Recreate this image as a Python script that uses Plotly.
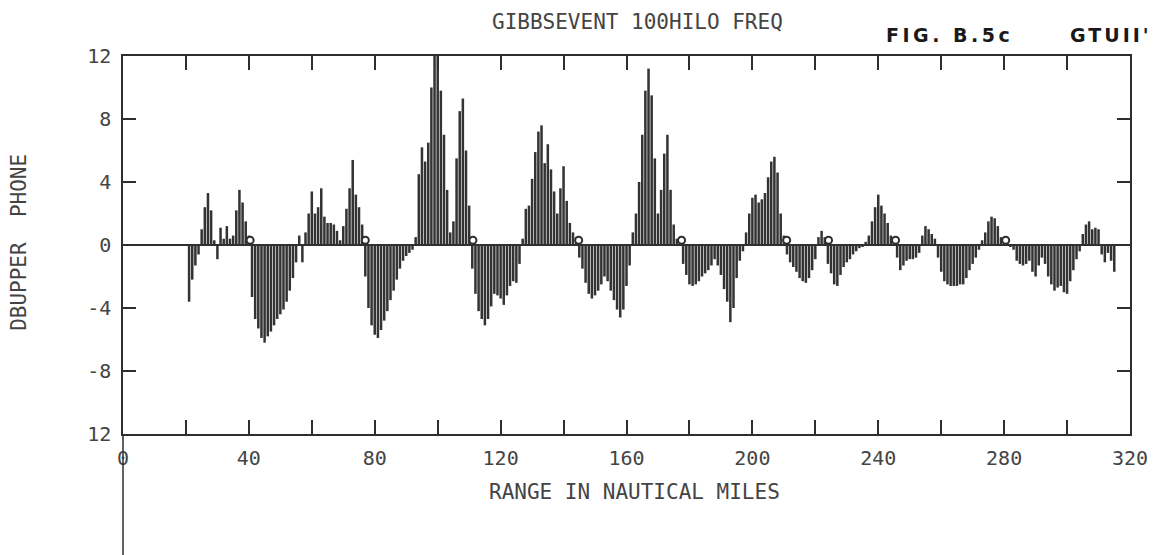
import plotly.graph_objects as go

# ---------------- data ----------------
RANGE_START_NM = 21          # first sample (nautical miles), one sample per mile
db_upper_phone = [
    # 21-40
    -3.6, -2.2, -1.3, -0.6, 1.0, 2.4, 3.3, 2.2, 0.3, -0.9,
    1.1, 0.4, 1.2, 0.4, 0.6, 2.2, 3.5, 2.7, 1.5, 0.6,
    # 41-60
    -3.3, -4.7, -5.3, -5.9, -6.2, -5.8, -5.5, -5.1, -4.7, -4.4,
    -4.1, -3.6, -2.9, -2.1, -1.1, 0.6, -1.1, 0.8, 2.0, 3.4,
    # 61-80
    2.0, 2.4, 3.6, 1.8, 1.4, 1.4, 1.3, 0.9, 0.3, 1.2,
    2.3, 3.6, 5.4, 3.2, 2.4, 1.3, -2.0, -4.0, -5.1, -5.7,
    # 81-100
    -5.9, -5.4, -4.8, -4.2, -3.5, -2.9, -2.2, -1.5, -1.0, -0.7,
    -0.5, -0.3, 0.5, 4.5, 6.2, 5.3, 6.5, 10.0, 12.3, 12.3,
    # 101-120
    9.8, 7.0, 3.5, 0.8, 1.5, 5.5, 8.5, 9.3, 6.0, 2.5,
    -1.5, -3.1, -4.2, -4.7, -5.1, -4.7, -3.9, -3.1, -3.2, -3.4,
    # 121-140
    -3.8, -3.2, -2.6, -2.3, -2.4, -1.2, 0.4, 2.3, 2.5, 4.2,
    5.9, 7.2, 7.6, 5.2, 6.4, 4.8, 3.4, 2.0, 3.6, 5.0,
    # 141-160
    2.8, 1.4, 0.8, 0.5, -0.8, -1.5, -2.4, -3.1, -3.4, -3.2,
    -2.9, -2.5, -2.0, -2.3, -2.9, -3.5, -4.1, -4.6, -4.1, -2.6,
    # 161-180
    -1.3, 0.8, 2.0, 4.0, 7.0, 9.8, 11.2, 9.5, 5.5, 2.0,
    3.5, 5.8, 7.0, 3.5, 1.3, 0.4, 0.2, -1.2, -1.9, -2.5,
    # 181-200
    -2.6, -2.5, -2.3, -2.0, -1.8, -1.6, -1.3, -0.9, -1.3, -1.9,
    -2.8, -3.6, -4.9, -4.0, -2.1, -1.0, -0.4, 0.8, 2.0, 3.0,
    # 201-220
    3.2, 2.7, 2.9, 3.3, 4.3, 5.3, 5.6, 4.6, 2.0, 0.6,
    -0.6, -1.1, -1.4, -1.7, -2.1, -2.3, -2.4, -2.1, -1.6, -0.9,
    # 221-240
    0.5, 0.9, 0.5, -1.2, -1.8, -2.5, -2.6, -1.9, -1.4, -1.1,
    -0.9, -0.6, -0.4, -0.2, -0.1, 0.2, 0.6, 1.5, 2.4, 3.2,
    # 241-260
    2.5, 2.0, 1.4, 0.6, 0.2, -0.8, -1.6, -1.3, -1.0, -0.9,
    -0.9, -0.8, -0.5, 0.6, 1.2, 1.0, 0.7, 0.4, -0.8, -1.7,
    # 261-280
    -2.3, -2.5, -2.6, -2.6, -2.6, -2.5, -2.5, -2.1, -1.6, -1.2,
    -0.8, -0.3, 0.3, 0.8, 1.5, 1.8, 1.7, 1.2, 0.5, 0.2,
    # 281-300
    0.1, -0.1, -0.3, -1.0, -1.2, -1.3, -1.2, -1.0, -1.7, -2.0,
    -1.3, -0.8, -1.2, -2.0, -2.5, -2.9, -2.7, -2.6, -3.0, -3.1,
    # 301-315
    -2.3, -1.6, -0.9, -0.4, 0.7, 1.3, 1.5, 1.0, 1.1, 1.0,
    -0.6, -1.1, -0.5, -1.0, -1.7,
]
range_nm = [RANGE_START_NM + i for i in range(len(db_upper_phone))]

# small circles drawn on the zero line (crossing markers)
circle_nm = [40.4, 77.0, 111.2, 144.8, 177.5, 210.9, 224.2, 245.5, 280.5]
circle_db = [0.3, 0.3, 0.3, 0.3, 0.3, 0.3, 0.3, 0.3, 0.3]

x_tick_vals = [0, 20, 40, 60, 80, 100, 120, 140, 160, 180, 200, 220, 240, 260, 280, 300, 320]
x_tick_text = ["0", "", "40", "", "80", "", "120", "", "160", "", "200", "", "240", "", "280", "", "320"]
y_tick_vals = [-12, -8, -4, 0, 4, 8, 12]
y_tick_text = ["12", "-8", "-4", "0", "4", "8", "12"]

title_text = "GIBBSEVENT 100HILO FREQ"
x_title = "RANGE IN NAUTICAL MILES"
y_title = "DBUPPER\u00a0\u00a0PHONE"
fig_label_1 = "FIG. B.5c"
fig_label_2 = "GTUII'"

# ---------------- styling ----------------
INK = "#2e2e2e"
TEXT_INK = "#444444"
PLOT_FONT = "DejaVu Sans Mono"

fig = go.Figure()
fig.add_trace(go.Bar(
    x=range_nm, y=db_upper_phone,
    marker=dict(color="#333333", line=dict(width=0)),
    hoverinfo="x+y",
))
fig.add_trace(go.Scatter(
    x=circle_nm, y=circle_db, mode="markers",
    marker=dict(symbol="circle", size=7, color="white",
                line=dict(color=INK, width=2)),
    hoverinfo="skip",
))

fig.update_layout(
    width=1160, height=555,
    margin=dict(l=123, r=30, t=56, b=121, pad=0),
    paper_bgcolor="white", plot_bgcolor="white",
    showlegend=False, bargap=0.2,
    font=dict(family=PLOT_FONT, color=TEXT_INK, size=20),
)
fig.update_xaxes(
    range=[0, 320], tickmode="array", tickvals=x_tick_vals, ticktext=x_tick_text,
    ticks="inside", ticklen=14, tickwidth=1.5, tickcolor=INK,
    showline=True, linecolor=INK, linewidth=1.5, mirror="allticks",
    showgrid=False, zeroline=False,
    tickfont=dict(family=PLOT_FONT, size=20, color=TEXT_INK),
    ticklabelstandoff=5,
)
fig.update_yaxes(
    range=[-12, 12], tickmode="array", tickvals=y_tick_vals, ticktext=y_tick_text,
    ticks="inside", ticklen=13, tickwidth=1.5, tickcolor=INK,
    showline=True, linecolor=INK, linewidth=1.5, mirror="allticks",
    showgrid=False, zeroline=True, zerolinecolor=INK, zerolinewidth=1.5,
    tickfont=dict(family=PLOT_FONT, size=20, color=TEXT_INK),
    ticklabelstandoff=6,
)

# left frame line continues below the plot (as on the original sheet)
fig.add_shape(type="line", xref="paper", yref="paper",
              x0=0, x1=0, y0=0, y1=-0.36,
              line=dict(color=INK, width=1.5))

fig.add_annotation(text=title_text, xref="paper", yref="paper",
                   x=0.511, y=1.09, showarrow=False,
                   xanchor="center", yanchor="middle",
                   font=dict(family=PLOT_FONT, size=21, color=TEXT_INK))
fig.add_annotation(text=x_title, xref="paper", yref="paper",
                   x=0.508, y=-0.153, showarrow=False,
                   xanchor="center", yanchor="middle",
                   font=dict(family=PLOT_FONT, size=21, color=TEXT_INK))
fig.add_annotation(text=y_title, xref="paper", yref="paper",
                   x=-0.1034, y=0.508, showarrow=False, textangle=-90,
                   xanchor="center", yanchor="middle",
                   font=dict(family=PLOT_FONT, size=21, color=TEXT_INK))
fig.add_annotation(text='<b><span style="letter-spacing:3.5px">' + fig_label_1 + "</span></b>",
                   xref="paper", yref="paper",
                   x=0.821, y=1.0556, showarrow=False,
                   xanchor="center", yanchor="middle",
                   font=dict(family="DejaVu Sans", size=19, color="#1a1a1a"))
fig.add_annotation(text='<b><span style="letter-spacing:3px">' + fig_label_2 + "</span></b>",
                   xref="paper", yref="paper",
                   x=0.981, y=1.0556, showarrow=False,
                   xanchor="center", yanchor="middle",
                   font=dict(family="DejaVu Sans", size=19, color="#1a1a1a"))

fig.write_html("out.html")
